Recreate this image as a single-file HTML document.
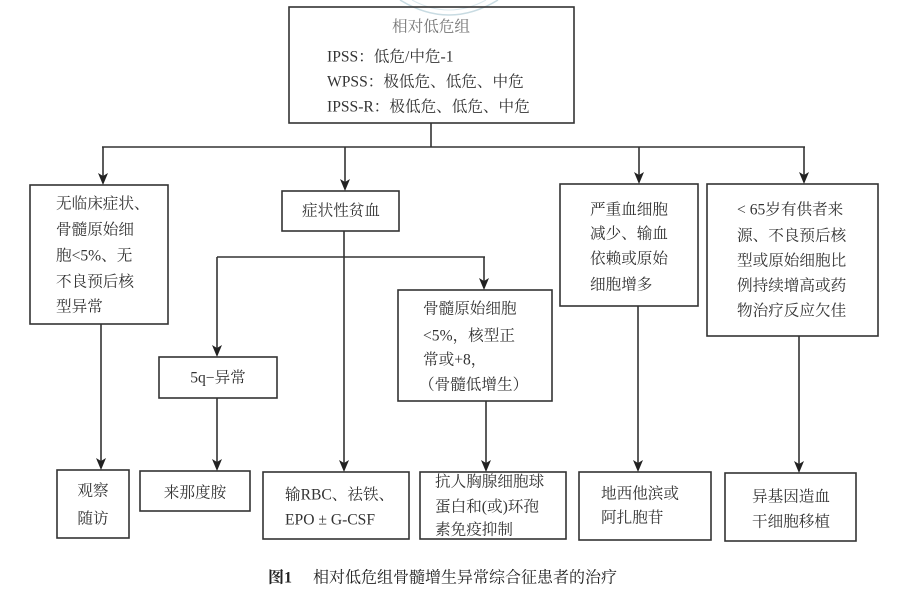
<!DOCTYPE html>
<html><head><meta charset="utf-8">
<style>
html,body{margin:0;padding:0;background:#fff;}
svg{display:block;}
text{font-family:"Liberation Serif","Noto Serif CJK SC","Noto Sans CJK SC",serif;fill:#333;font-size:15.6px;}
</style></head>
<body>
<svg width="900" height="594" viewBox="0 0 900 594" xmlns="http://www.w3.org/2000/svg">
<!-- watermark -->
<path d="M400,0 Q449,30 498,0" fill="none" stroke="#c8dbe2" stroke-width="1.5"/>
<path d="M412,0 Q449,20 486,0" fill="none" stroke="#dbe8ed" stroke-width="1"/>

<g fill="none" stroke="#333" stroke-width="1.6">
<!-- boxes -->
<rect x="289" y="7" width="285" height="116"/>
<rect x="30" y="185" width="138" height="139"/>
<rect x="282" y="191" width="117" height="40"/>
<rect x="560" y="184" width="138" height="122"/>
<rect x="707" y="184" width="171" height="152"/>
<rect x="159" y="357" width="118" height="41"/>
<rect x="398" y="290" width="154" height="111"/>
<rect x="57" y="470" width="72" height="68"/>
<rect x="140" y="471" width="110" height="40"/>
<rect x="263" y="472" width="146" height="67"/>
<rect x="420" y="472" width="146" height="67"/>
<rect x="579" y="472" width="132" height="68"/>
<rect x="725" y="473" width="131" height="68"/>
<!-- connectors -->
<line x1="431" y1="123" x2="431" y2="147"/>
<line x1="102" y1="147" x2="805" y2="147"/>
<line x1="217" y1="257" x2="485" y2="257"/>
<line x1="103" y1="147" x2="103" y2="178"/>
<line x1="345" y1="147" x2="345" y2="184"/>
<line x1="639" y1="147" x2="639" y2="177"/>
<line x1="804" y1="147" x2="804" y2="177"/>
<line x1="217" y1="257" x2="217" y2="350"/>
<line x1="484" y1="257" x2="484" y2="283"/>
<line x1="101" y1="324" x2="101" y2="463"/>
<line x1="217" y1="398" x2="217" y2="464"/>
<line x1="344" y1="231" x2="344" y2="465"/>
<line x1="486" y1="401" x2="486" y2="465"/>
<line x1="638" y1="306" x2="638" y2="465"/>
<line x1="799" y1="336" x2="799" y2="466"/>
</g>
<g fill="#222">
<polygon points="98,173 103,176 108,173 103,185"/>
<polygon points="340,179 345,182 350,179 345,191"/>
<polygon points="634,172 639,175 644,172 639,184"/>
<polygon points="799,172 804,175 809,172 804,184"/>
<polygon points="212,345 217,348 222,345 217,357"/>
<polygon points="479,278 484,281 489,278 484,290"/>
<polygon points="96,458 101,461 106,458 101,470"/>
<polygon points="212,459 217,462 222,459 217,471"/>
<polygon points="339,460 344,463 349,460 344,472"/>
<polygon points="481,460 486,463 491,460 486,472"/>
<polygon points="633,460 638,463 643,460 638,472"/>
<polygon points="794,461 799,464 804,461 799,473"/>
</g>

<g dominant-baseline="central">
<!-- top box -->
<text x="431" y="27" text-anchor="middle" style="fill:#777">相对低危组</text>
<text x="327" y="57">IPSS：低危/中危-1</text>
<text x="327" y="82">WPSS：极低危、低危、中危</text>
<text x="327" y="107">IPSS-R：极低危、低危、中危</text>
<!-- box1 -->
<text x="56" y="204">无临床症状、</text>
<text x="56" y="230">骨髓原始细</text>
<text x="56" y="256">胞&lt;5%、无</text>
<text x="56" y="282">不良预后核</text>
<text x="56" y="307">型异常</text>
<!-- 症状性贫血 -->
<text x="341" y="211" text-anchor="middle">症状性贫血</text>
<!-- 严重 -->
<text x="590" y="210">严重血细胞</text>
<text x="590" y="234">减少、输血</text>
<text x="590" y="259">依赖或原始</text>
<text x="590" y="285">细胞增多</text>
<!-- <65 -->
<text x="737" y="210">&lt; 65岁有供者来</text>
<text x="737" y="236">源、不良预后核</text>
<text x="737" y="261">型或原始细胞比</text>
<text x="737" y="286">例持续增高或药</text>
<text x="737" y="311">物治疗反应欠佳</text>
<!-- 5q -->
<text x="218" y="378" text-anchor="middle">5q−异常</text>
<!-- 骨髓原始 -->
<text x="423" y="309">骨髓原始细胞</text>
<text x="423" y="336">&lt;5%，核型正</text>
<text x="423" y="360">常或+8，</text>
<text x="419" y="385">（骨髓低增生）</text>
<!-- bottom -->
<text x="93" y="491" text-anchor="middle">观察</text>
<text x="93" y="519" text-anchor="middle">随访</text>
<text x="195" y="493" text-anchor="middle">来那度胺</text>
<text x="285" y="495">输RBC、祛铁、</text>
<text x="285" y="520">EPO ± G-CSF</text>
<text x="435" y="482">抗人胸腺细胞球</text>
<text x="435" y="507">蛋白和(或)环孢</text>
<text x="435" y="530">素免疫抑制</text>
<text x="601" y="494">地西他滨或</text>
<text x="601" y="518">阿扎胞苷</text>
<text x="752" y="497">异基因造血</text>
<text x="752" y="522">干细胞移植</text>
<!-- caption -->
<text x="268" y="578" style="font-weight:bold;font-size:16px;fill:#222">图1</text>
<text x="313" y="578" style="font-size:16px;fill:#222">相对低危组骨髓增生异常综合征患者的治疗</text>
</g>
</svg>
</body></html>
